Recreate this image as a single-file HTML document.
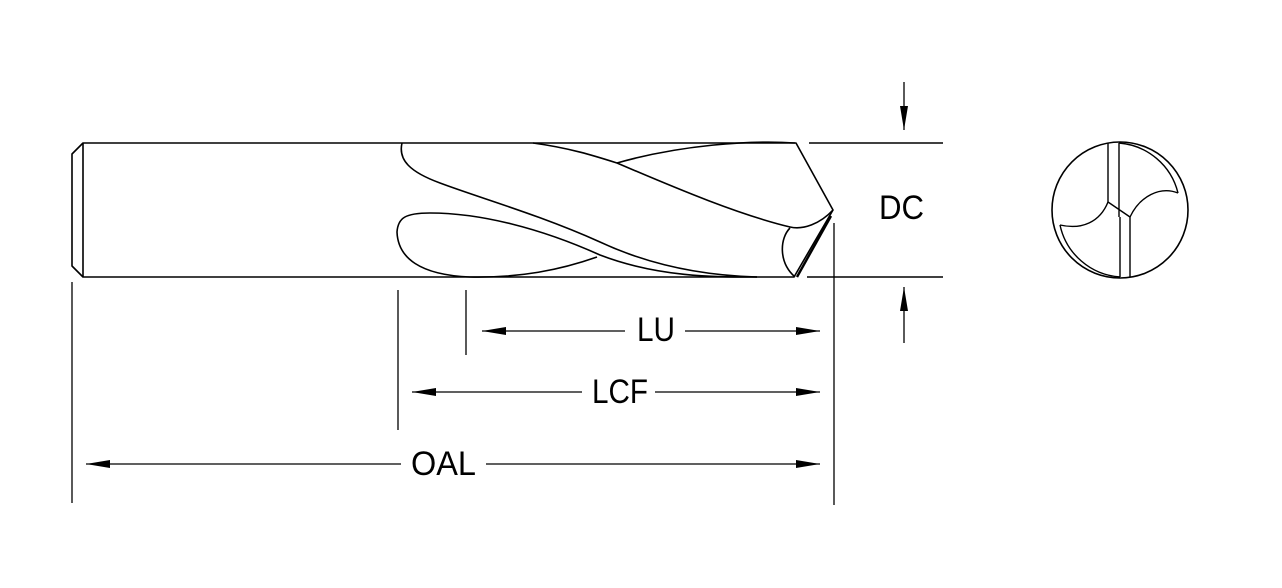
<!DOCTYPE html>
<html><head><meta charset="utf-8"><style>html,body{margin:0;padding:0;background:#fff}svg{display:block}</style></head>
<body>
<svg width="1282" height="588" viewBox="0 0 1282 588" xmlns="http://www.w3.org/2000/svg">
<defs>
<marker id="a" viewBox="0 0 24 10" refX="24" refY="5" markerWidth="24" markerHeight="10" markerUnits="userSpaceOnUse" orient="auto-start-reverse"><path d="M0,1 L24,5 L0,9 Z" fill="#000"/></marker>
</defs>
<g fill="none" stroke="#000" stroke-width="1.6" stroke-linejoin="round">
<path d="M83,143 L796,143 L833,210 L794,277 L83,277 Z" fill="none"/>
<path d="M83,143 L72,154 L72,266 L83,277"/>
<path d="M402,143 C398,160 410,172 440,183 C480,198 540,215 600,242 C660,270 720,276 757,277"/>
<path d="M533,143 C570,148 595,156 617,163 C680,190 740,215 790,227 C803,230 820,224 833,210"/>
<path d="M617,163 C680,145 750,140 795,143"/>
<path d="M597,257 C560,270 520,278 470,277 C420,275 398,258 397,232 C398,218 405,213 430,213 C480,213 540,228 600,255 C660,278 720,277 757,277"/>
<path d="M790,228 C780,238 778,262 795,277"/>
<path d="M831,216 L797,277" stroke-width="2.4"/>
<path d="M809,143 L943,143 M807,277 L943,277"/>
<path d="M834,223 L834,505 M466,290 L466,355 M398,290 L398,430 M72,282 L72,503" stroke-width="1.3"/>
<path d="M904,82 L904,130" marker-end="url(#a)" stroke-width="1.3"/>
<path d="M904,343 L904,287" marker-end="url(#a)" stroke-width="1.3"/>
<path d="M625,331 L482,331" marker-end="url(#a)" stroke-width="1.3"/>
<path d="M685,331 L820,331" marker-end="url(#a)" stroke-width="1.3"/>
<path d="M582,392 L412,392" marker-end="url(#a)" stroke-width="1.3"/>
<path d="M655,392 L820,392" marker-end="url(#a)" stroke-width="1.3"/>
<path d="M401,464 L86,464" marker-end="url(#a)" stroke-width="1.3"/>
<path d="M486,464 L820,464" marker-end="url(#a)" stroke-width="1.3"/>
<circle cx="1120" cy="210" r="68"/>
<path d="M1108,143 L1108,202 L1130,217 L1130,277 M1119,143 L1119,217 M1120,217 L1120,277" stroke-width="1.4"/>
<path d="M1108,202 C1100,222 1082,230 1060,225" stroke-width="1.4"/>
<path d="M1130,217 C1140,196 1160,186 1178,193" stroke-width="1.4"/>
<path d="M1119,143 A66,66 0 0 1 1178,193" stroke-width="1.4"/>
<path d="M1060,225 A66,66 0 0 0 1120,277" stroke-width="1.4"/>
</g>
<g font-family="Liberation Sans, DejaVu Sans, sans-serif" font-size="34" font-weight="normal" fill="#000">
<text x="637" y="341" textLength="38" lengthAdjust="spacingAndGlyphs">LU</text>
<text x="592" y="403" textLength="56" lengthAdjust="spacingAndGlyphs">LCF</text>
<text x="411" y="475" textLength="65" lengthAdjust="spacingAndGlyphs">OAL</text>
<text x="879" y="219" textLength="45" lengthAdjust="spacingAndGlyphs">DC</text>
</g>
</svg>
</body></html>
